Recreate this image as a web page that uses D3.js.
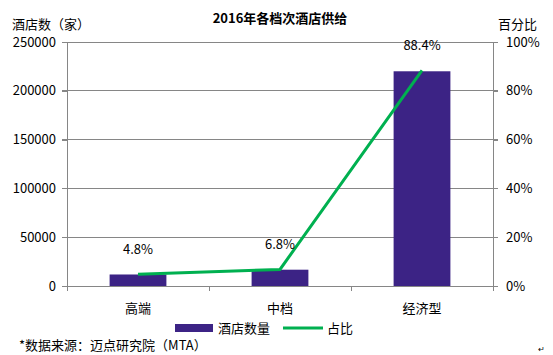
<!DOCTYPE html>
<html><head><meta charset="utf-8">
<script src="https://cdn.jsdelivr.net/npm/d3@7"></script>
<style>body{margin:0;background:#fff;} text{font-family:"Noto Sans CJK SC","Noto Sans",sans-serif;fill:#000;}</style>
</head><body><svg id="c" width="553" height="355"></svg>
<script>
const categories = ["高端", "中档", "经济型"];
const hotelCounts = [11800, 16700, 220000];
const shares = [4.8, 6.8, 88.4];
const leftTicks = [0, 50000, 100000, 150000, 200000, 250000];
const rightTicks = [0, 20, 40, 60, 80, 100];

const svg = d3.select("#c");
const L = 67, R = 493, T = 42, B = 286;
const x = d3.scaleBand().domain(categories).range([L, R]).paddingInner(0).paddingOuter(0);
const y = d3.scaleLinear().domain([0, 250000]).range([B, T]);
const y2 = d3.scaleLinear().domain([0, 100]).range([B, T]);
const grey = "#868686";

// gridlines
svg.append("g").selectAll("line").data(leftTicks).join("line")
  .attr("x1", L - 5).attr("x2", R + 5)
  .attr("y1", d => y(d)).attr("y2", d => y(d))
  .attr("stroke", grey).attr("stroke-width", 1).attr("shape-rendering", "crispEdges");

// axes
const ga = svg.append("g").attr("transform", `translate(${L},0)`)
  .call(d3.axisLeft(y).tickValues(leftTicks).tickSize(5).tickPadding(6).tickFormat(d3.format("d")));
const gb = svg.append("g").attr("transform", `translate(${R},0)`)
  .call(d3.axisRight(y2).tickValues(rightTicks).tickSize(5).tickPadding(8).tickFormat(d => d + "%"));
[ga, gb].forEach(g => {
  g.selectAll("path,line").attr("stroke", grey).attr("shape-rendering", "crispEdges");
  g.select(".domain").attr("d", `M0,${T}V${B}`);
  g.selectAll("text").style("font-size", "13px").attr("fill", "#000");
});

// x axis
const gx = svg.append("g").attr("transform", `translate(0,${B})`);
gx.append("line").attr("x1", L).attr("x2", R).attr("stroke", grey).attr("shape-rendering", "crispEdges");
const bounds = [L, ...categories.map(c => x(c) + x.bandwidth())];
gx.selectAll("line.t").data(bounds).join("line").attr("class", "t")
  .attr("x1", d => d).attr("x2", d => d).attr("y1", 0).attr("y2", 5)
  .attr("stroke", grey).attr("shape-rendering", "crispEdges");
gx.selectAll("text").data(categories).join("text")
  .attr("x", d => x(d) + x.bandwidth() / 2).attr("y", 27)
  .attr("text-anchor", "middle").style("font-size", "13px").text(d => d);

// bars
const bw = x.bandwidth() * 0.4;
svg.append("g").selectAll("rect").data(categories).join("rect")
  .attr("x", d => x(d) + x.bandwidth() / 2 - bw / 2)
  .attr("width", bw)
  .attr("y", (d, i) => y(hotelCounts[i]))
  .attr("height", (d, i) => B - y(hotelCounts[i]))
  .attr("fill", "#3C2385");

// line
const line = d3.line().x((d, i) => x(categories[i]) + x.bandwidth() / 2).y(d => y2(d));
svg.append("path").datum(shares).attr("d", line)
  .attr("fill", "none").attr("stroke", "#00B050").attr("stroke-width", 3);

svg.append("g").selectAll("text").data(shares).join("text")
  .attr("x", (d, i) => x(categories[i]) + x.bandwidth() / 2)
  .attr("y", d => y2(d) - 20)
  .attr("text-anchor", "middle").style("font-size", "13px").text(d => d.toFixed(1) + "%");

// titles
svg.append("text").attr("x", 280).attr("y", 23).attr("text-anchor", "middle")
  .style("font-size", "13px").style("font-weight", "bold").text("2016年各档次酒店供给");
svg.append("text").attr("x", 12).attr("y", 29).style("font-size", "13px").text("酒店数（家）");
svg.append("text").attr("x", 498).attr("y", 29).style("font-size", "13px").text("百分比");

// legend
svg.append("rect").attr("x", 175).attr("y", 324).attr("width", 38).attr("height", 8).attr("fill", "#3C2385");
svg.append("text").attr("x", 218).attr("y", 333).style("font-size", "13px").text("酒店数量");
svg.append("line").attr("x1", 283).attr("x2", 323).attr("y1", 328).attr("y2", 328)
  .attr("stroke", "#00B050").attr("stroke-width", 3);
svg.append("text").attr("x", 327).attr("y", 333).style("font-size", "13px").text("占比");

// source
svg.append("text").attr("x", 19).attr("y", 350).style("font-size", "13px").text("*数据来源：迈点研究院（MTA）");
svg.append("text").attr("x", 538).attr("y", 352).style("font-size", "8px").attr("fill", "#555").text("↵");
</script></body></html>
